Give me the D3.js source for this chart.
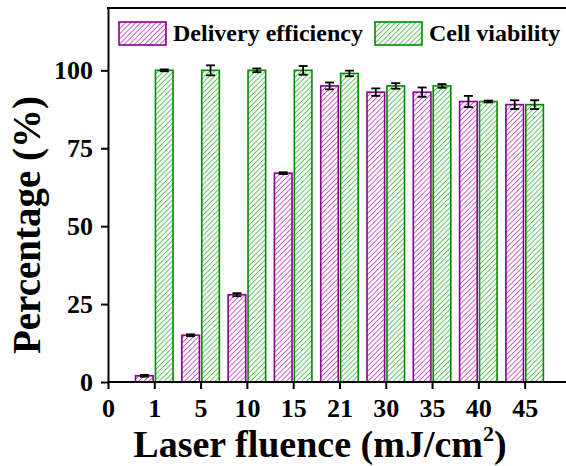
<!DOCTYPE html>
<html>
<head>
<meta charset="utf-8">
<script src="https://cdn.jsdelivr.net/npm/d3@7"></script>
<style>
  body { margin: 0; background: #fff; }
  text { font-family: "Liberation Serif", "Times New Roman", serif; font-weight: bold; }
</style>
</head>
<body>
<div id="graph"></div>
<script>
// tick labels on the x axis (first one is the empty origin)
let tickLabels = ["0", "1", "5", "10", "15", "21", "30", "35", "40", "45"];
let fluence = ["1", "5", "10", "15", "21", "30", "35", "40", "45"];

let delivery = [2, 15, 28, 67, 95, 93, 93, 90, 89];
let deliveryErr = [0.3, 0.3, 0.5, 0.3, 1.1, 1.2, 1.5, 1.8, 1.4];
let viability = [100, 100, 100, 100, 99, 95, 95, 90, 89];
let viabilityErr = [0.3, 1.6, 0.6, 1.4, 0.9, 0.9, 0.6, 0.3, 1.4];

let yTicks = [0, 25, 50, 75, 100];

let W = 566, H = 466;
let plotLeft = 108, plotTop = 8, plotBottom = 382, plotRight = 564;

let svg = d3.select("#graph")
  .append("svg")
  .attr("width", W)
  .attr("height", H);

svg.append("rect").attr("width", W).attr("height", H).attr("fill", "#fff");

// hatch patterns
let defs = svg.append("defs");
function hatch(id, color) {
  let p = defs.append("pattern")
    .attr("id", id)
    .attr("patternUnits", "userSpaceOnUse")
    .attr("width", 3.6)
    .attr("height", 3.6)
    .attr("patternTransform", "rotate(45)");
  p.append("rect").attr("width", 3.6).attr("height", 3.6).attr("fill", "#fff");
  p.append("line")
    .attr("x1", 0.5).attr("y1", 0).attr("x2", 0.5).attr("y2", 3.6)
    .attr("stroke", color).attr("stroke-width", 0.9);
}
hatch("hatchP", "#c84ec8");
hatch("hatchG", "#4fbf4f");

let x = d3.scaleLinear().domain([0, 9.85]).range([plotLeft, plotRight]);
let y = d3.scaleLinear().domain([0, 120]).range([plotBottom, plotTop]);

let barW = 0.38, gap = 0.025;

// bars
let series = [
  { vals: delivery, err: deliveryErr, fill: "url(#hatchP)", stroke: "#8a008a", side: -1 },
  { vals: viability, err: viabilityErr, fill: "url(#hatchG)", stroke: "#008a00", side: 1 }
];

series.forEach(s => {
  let g = svg.append("g");
  g.selectAll("rect")
    .data(s.vals)
    .join("rect")
    .attr("x", (d, i) => s.side < 0 ? x(i + 1 - gap - barW) : x(i + 1 + gap))
    .attr("width", x(barW) - x(0))
    .attr("y", d => y(d))
    .attr("height", d => y(0) - y(d))
    .attr("fill", s.fill)
    .attr("stroke", s.stroke)
    .attr("stroke-width", 1.6);

  // error bars
  let eg = svg.append("g").attr("stroke", "#000").attr("stroke-width", 1.8);
  s.vals.forEach((d, i) => {
    let cx = s.side < 0 ? x(i + 1 - gap - barW / 2) : x(i + 1 + gap + barW / 2);
    let e = s.err[i];
    eg.append("line").attr("x1", cx).attr("x2", cx).attr("y1", y(d - e)).attr("y2", y(d + e));
    eg.append("line").attr("x1", cx - 4.5).attr("x2", cx + 4.5).attr("y1", y(d + e)).attr("y2", y(d + e));
    eg.append("line").attr("x1", cx - 4.5).attr("x2", cx + 4.5).attr("y1", y(d - e)).attr("y2", y(d - e));
  });
});

// axes
let xAxis = svg.append("g")
  .attr("transform", "translate(0," + plotBottom + ")")
  .call(d3.axisBottom(x)
    .tickValues(d3.range(tickLabels.length))
    .tickFormat(i => tickLabels[i])
    .tickSize(7)
    .tickPadding(10)
    .tickSizeOuter(0));

let yAxis = svg.append("g")
  .attr("transform", "translate(" + plotLeft + ",0)")
  .call(d3.axisLeft(y)
    .tickValues(yTicks)
    .tickSize(7)
    .tickPadding(8)
    .tickSizeOuter(0));

[xAxis, yAxis].forEach(a => {
  a.select(".domain").attr("stroke", "#000").attr("stroke-width", 2);
  a.selectAll(".tick line").attr("stroke", "#000").attr("stroke-width", 2);
  a.selectAll(".tick text")
    .attr("fill", "#000")
    .style("font-size", "26px")
    .style("font-family", "'Liberation Serif', 'Times New Roman', serif")
    .style("font-weight", "bold");
});
xAxis.select(".domain").attr("d", "M" + plotLeft + ",0H" + W);

// top border
svg.append("line")
  .attr("x1", plotLeft - 1).attr("x2", W)
  .attr("y1", plotTop).attr("y2", plotTop)
  .attr("stroke", "#000").attr("stroke-width", 2);

// legend
let legend = [
  { label: "Delivery efficiency", fill: "url(#hatchP)", stroke: "#8a008a", x0: 119 },
  { label: "Cell viability", fill: "url(#hatchG)", stroke: "#008a00", x0: 375 }
];
legend.forEach(l => {
  svg.append("rect")
    .attr("x", l.x0).attr("y", 22)
    .attr("width", 47).attr("height", 23)
    .attr("fill", l.fill).attr("stroke", l.stroke).attr("stroke-width", 1.6);
  svg.append("text")
    .attr("x", l.x0 + 54).attr("y", 41)
    .style("font-size", "24px")
    .text(l.label);
});

// axis titles
let xt = svg.append("text")
  .attr("x", 320).attr("y", 457)
  .attr("text-anchor", "middle")
  .style("font-size", "38px");
xt.append("tspan").text("Laser fluence (mJ/cm");
xt.append("tspan").attr("dy", -16).style("font-size", "22px").text("2");
xt.append("tspan").attr("dy", 16).text(")");

svg.append("text")
  .attr("transform", "translate(40,225) rotate(-90)")
  .attr("text-anchor", "middle")
  .style("font-size", "39px")
  .text("Percentage (%)");
</script>
</body>
</html>
